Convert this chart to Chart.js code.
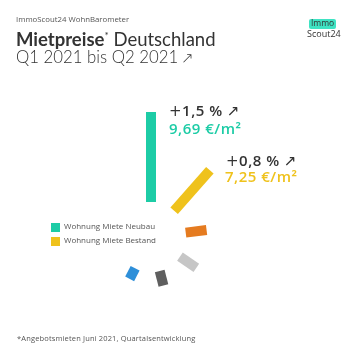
<!DOCTYPE html>
<html>
<head>
<meta charset="utf-8">
<script src="https://cdn.jsdelivr.net/npm/chart.js@4.4.1/dist/chart.umd.min.js"></script>
<style>
  html, body { margin: 0; padding: 0; background: #fff; }
  body { width: 360px; height: 360px; position: relative; overflow: hidden; font-family: Lato, "Open Sans", sans-serif; color: #333; }
  #c { position: absolute; left: 0; top: 0; }
  .t { position: absolute; white-space: nowrap; line-height: 1; }
  .os { font-family: "Open Sans", sans-serif; }
  .ann { font-family: "Open Sans", sans-serif; font-size: 15px; font-weight: 600; letter-spacing: 0.5px; }
  .ann .p, .ann .ar { font-family: "DejaVu Sans", sans-serif; font-weight: 400; }
  .sq { position: absolute; width: 9px; height: 9px; }
</style>
</head>
<body>
<canvas id="c" width="360" height="360"></canvas>

<div class="t os" style="left:16px;top:16px;font-size:7.8px;color:#555;">ImmoScout24 WohnBarometer</div>
<div class="t" style="left:16px;top:30px;font-size:18.5px;color:#333;"><span style="font-weight:700;">Mietpreise</span><sup style="font-size:10px;">*</sup> Deutschland</div>
<div class="t" style="left:16px;top:48.5px;font-size:16.8px;color:#333;font-weight:300;">Q1 2021 bis Q2 2021<span style="font-size:15px;font-family:'DejaVu Sans';margin-left:3px;">↗</span></div>

<div class="t" style="left:309px;top:19px;width:27px;height:10px;background:#3fe3c3;border-radius:2px;"></div>
<div class="t os" style="left:311px;top:19px;font-size:8.5px;color:#333;">Immo</div>
<div class="t os" style="left:307px;top:29px;font-size:9px;color:#333;">Scout24</div>

<div id="lab1a" class="t ann" style="left:169px;top:103px;color:#333;"></div>
<div id="lab1b" class="t ann" style="left:169px;top:121px;color:#1dcca6;"></div>
<div id="lab2a" class="t ann" style="left:226px;top:153px;color:#333;"></div>
<div id="lab2b" class="t ann" style="left:225px;top:169px;color:#efc21c;"></div>

<div class="sq" style="left:51px;top:223px;background:#1dcca6;"></div>
<div id="leg1" class="t os" style="left:64px;top:222px;font-size:8px;color:#555;"></div>
<div class="sq" style="left:51px;top:237px;background:#efc21c;"></div>
<div id="leg2" class="t os" style="left:64px;top:236px;font-size:8px;color:#555;"></div>

<div class="t os" style="left:17px;top:335px;font-size:7.5px;color:#555;letter-spacing:0.15px;">*Angebotsmieten Juni 2021, Quartalsentwicklung</div>

<script>
// ---- data ----
const categories = ["Wohnung Miete Neubau", "Wohnung Miete Bestand", "Segment 3", "Segment 4", "Segment 5", "Segment 6"];
const barValues = [1.5, 0.9, 0.35, 0.33, 0.25, 0.2];       // bar lengths
const changeLabels = ["+1,5 % ↗", "+0,8 % ↗"];
const priceLabels = ["9,69 €/m²", "7,25 €/m²"];
const legendLabels = ["Wohnung Miete Neubau", "Wohnung Miete Bestand"];

// ---- styling / geometry ----
const colors = ["#1dcca6", "#efc21c", "#e57b20", "#c6c6c6", "#5f5f5f", "#2e8fd9"];
const INNER = 35, PX_PER_UNIT = 60, START_DEG = 90, STEP_DEG = 41.4;

function setChange(id, txt) {
  const el = document.getElementById(id);
  const plus = document.createElement('span'); plus.className = 'p'; plus.textContent = txt.slice(0, 1);
  const mid = document.createTextNode(txt.slice(1, -1));
  const ar = document.createElement('span'); ar.className = 'ar'; ar.textContent = txt.slice(-1);
  el.append(plus, mid, ar);
}
setChange('lab1a', changeLabels[0]);
setChange('lab2a', changeLabels[1]);
document.getElementById('lab1b').textContent = priceLabels[0];
document.getElementById('lab2b').textContent = priceLabels[1];
document.getElementById('leg1').textContent = legendLabels[0];
document.getElementById('leg2').textContent = legendLabels[1];

const datasets = categories.map((name, i) => {
  const a = (START_DEG - i * STEP_DEG) * Math.PI / 180;
  const r0 = INNER, r1 = INNER + barValues[i] * PX_PER_UNIT;
  return {
    label: name,
    data: [{x: r0 * Math.cos(a), y: r0 * Math.sin(a)}, {x: r1 * Math.cos(a), y: r1 * Math.sin(a)}],
    showLine: true,
    borderColor: colors[i],
    backgroundColor: colors[i],
    borderWidth: 10,
    borderCapStyle: 'butt',
    pointRadius: 0,
    pointHoverRadius: 0
  };
});

new Chart(document.getElementById('c'), {
  type: 'scatter',
  data: { datasets },
  options: {
    responsive: false,
    animation: false,
    devicePixelRatio: 1,
    layout: { padding: 0 },
    plugins: { legend: { display: false }, tooltip: { enabled: false } },
    scales: {
      x: { type: 'linear', display: false, min: -151, max: 209 },
      y: { type: 'linear', display: false, min: -123, max: 237 }
    }
  }
});
</script>
</body>
</html>
